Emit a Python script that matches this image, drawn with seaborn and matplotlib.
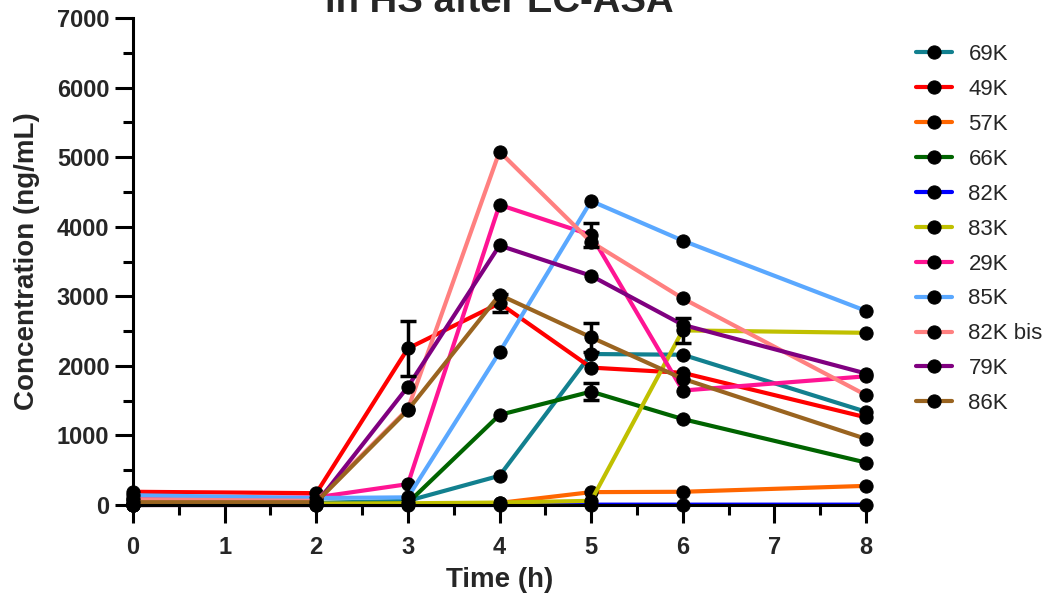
import matplotlib
matplotlib.use("Agg")
import matplotlib.pyplot as plt
import seaborn as sns
import numpy as np
from matplotlib.ticker import MultipleLocator

sns.set_theme(style="ticks")
plt.rcParams['font.family'] = ['Liberation Sans', 'DejaVu Sans']

time_h = [0, 2, 3, 4, 5, 6, 8]

series_names = ["69K", "49K", "57K", "66K", "82K", "83K", "29K", "85K", "82K bis", "79K", "86K"]
s69K = [20, 30, 60, 420, 2170, 2160, 1340]
s49K = [190, 170, 2250, 2900, 1975, 1900, 1260]
s57K = [0, 0, 10, 30, 185, 190, 275]
s66K = [0, 10, 30, 1295, 1630, 1235, 610]
s82K = [0, 0, 0, 0, 5, 5, 5]
s83K = [0, 20, 25, 35, 60, 2510, 2475]
s29K = [90, 110, 300, 4315, 3880, 1645, 1850]
s85K = [140, 100, 110, 2195, 4370, 3800, 2790]
s82Kbis = [80, 60, 1380, 5080, 3780, 2970, 1580]
s79K = [20, 20, 1700, 3730, 3295, 2590, 1890]
s86K = [40, 40, 1365, 3020, 2410, 1815, 950]
values = [s69K, s49K, s57K, s66K, s82K, s83K, s29K, s85K, s82Kbis, s79K, s86K]

# error bars (SD) where visible; 0 = none
e49K = [0, 0, 400, 130, 0, 0, 0]
e29K = [0, 0, 0, 0, 170, 0, 0]
e86K = [0, 0, 0, 0, 210, 0, 0]
e66K = [0, 0, 0, 0, 120, 0, 0]
e83K = [0, 0, 0, 0, 0, 180, 0]
errors = {"49K": e49K, "29K": e29K, "86K": e86K, "66K": e66K, "83K": e83K}

colors = ["#12808f", "#ff0000", "#ff6600", "#006400", "#0000ff", "#c0c000",
          "#ff1493", "#5aa8ff", "#ff8080", "#800080", "#9a6420"]

fig = plt.figure(figsize=(10.57, 5.99), dpi=100)
ax = fig.add_axes([133/1057, 1-505/599, (866-133)/1057, (505-18)/599])

for name, vals, col in zip(series_names, values, colors):
    sns.lineplot(x=time_h, y=vals, color=col, ax=ax, label=name,
                 marker='o', markersize=9.5, markerfacecolor='black',
                 markeredgecolor='black', linewidth=3, clip_on=False)
    if name in errors:
        err = np.array(errors[name], dtype=float)
        m = err > 0
        ax.errorbar(np.array(time_h)[m], np.array(vals)[m], yerr=err[m], fmt='none',
                    ecolor='black', elinewidth=2.5, capsize=6, capthick=2.5, zorder=5)

ax.set_xlim(0, 8)
ax.set_ylim(0, 7000)
ax.xaxis.set_major_locator(MultipleLocator(1))
ax.xaxis.set_minor_locator(MultipleLocator(0.5))
ax.yaxis.set_major_locator(MultipleLocator(1000))
ax.yaxis.set_minor_locator(MultipleLocator(500))
ax.tick_params(axis='both', which='major', length=13, width=2.2, direction='out',
               labelsize=17, color='black')
ax.tick_params(axis='both', which='minor', length=7, width=2.2, direction='out', color='black')
ax.tick_params(axis='x', which='major', pad=9)
ax.tick_params(axis='y', which='major', pad=4)
for lab in ax.get_xticklabels() + ax.get_yticklabels():
    lab.set_fontweight('bold')

sns.despine(ax=ax)
for sp in ['left', 'bottom']:
    ax.spines[sp].set_linewidth(2.2)
    ax.spines[sp].set_color('black')
ax.grid(False)

ax.set_xlabel("Time (h)", fontsize=20, fontweight='bold', labelpad=6)
ax.set_ylabel("Concentration (ng/mL)", fontsize=20, fontweight='bold', labelpad=12)

fig.text(499/1057, 1-12/599, "in HS after EC-ASA", ha='center', va='baseline',
         fontsize=27.5, fontweight='bold')

leg = ax.legend(loc='upper left', bbox_to_anchor=(0.858, 0.941),
                bbox_transform=fig.transFigure, frameon=False, fontsize=16,
                handlelength=1.62, handletextpad=0.75, labelspacing=0.625,
                borderaxespad=0)

fig.savefig("out.png", dpi=100)
